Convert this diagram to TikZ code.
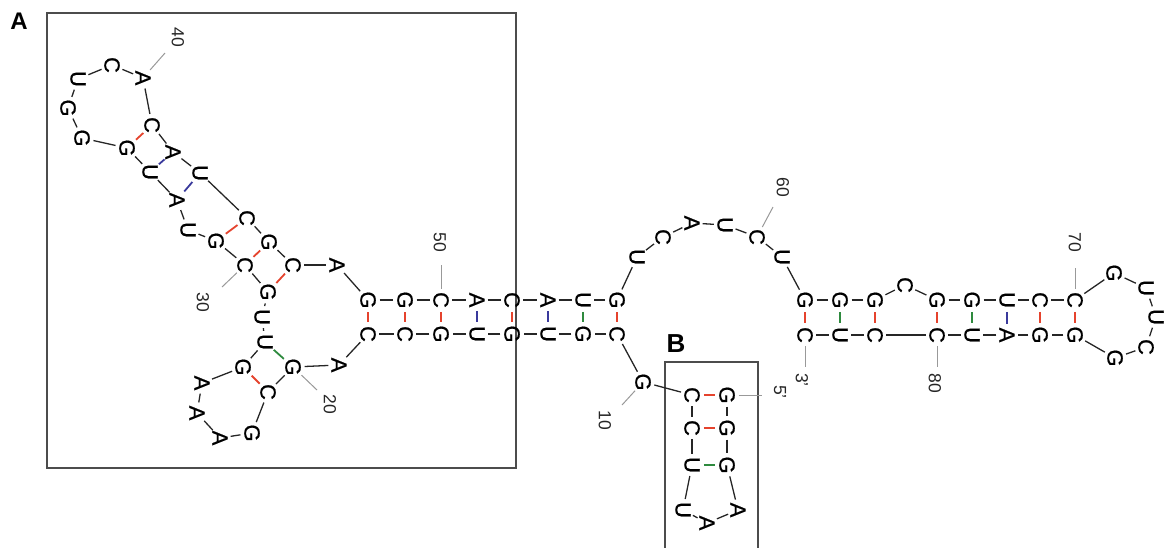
\documentclass[tikz,border=0pt]{standalone}
\usepackage{fontspec}
\setmainfont{Liberation Sans}
\newfontfamily\ntfamily{Liberation Sans}[FakeBold=0.7]
\definecolor{pairred}{HTML}{E5432D}
\definecolor{pairblue}{HTML}{3A3A9C}
\definecolor{pairgreen}{HTML}{2E8A3E}
\newcommand\ntfont{\ntfamily\fontsize{22}{22}\selectfont}
\newcommand\numfont{\fontsize{17.5}{18}\selectfont}
\tikzset{
  nt/.style={circle, minimum size=21pt, inner sep=0pt, font=\ntfont, rotate=-90},
  num/.style={inner sep=0pt, font=\numfont, text=black!85, rotate=-90},
  bb/.style={draw=black!85, line width=1.3pt},
  pr/.style={line width=1.8pt},
  tk/.style={draw=black!40, line width=1pt},
  framebox/.style={draw=black!70, line width=1.3pt},
  panel/.style={inner sep=0pt, font=\fontsize{24}{24}\selectfont\bfseries}
}
\begin{document}
\begin{tikzpicture}[x=1pt,y=-1pt]
\useasboundingbox (0,0) rectangle (1166,547);

% panel frames
\draw[framebox] (47,13) rectangle (516,468);
\draw[framebox] (665,560) -- (665,362) -- (758,362) -- (758,560);
\node[panel] (panelA) at (19,21) {A};
\node[panel, font=\fontsize{26}{26}\selectfont\bfseries] (panelB) at (676,344) {B};

% nucleotides
\foreach \i/\x/\y/\b in {
  1/727/395/G, 2/727/428/G, 3/727/465/G, 4/738/510/A, 5/707/523/A,
  6/683/510/U, 7/692/465/U, 8/692/428/C, 9/692/395/C, 10/643/382/G,
  11/617/334/C, 12/583/334/G, 13/548/334/U, 14/512/334/G, 15/477/334/U,
  16/441/334/G, 17/405/334/C, 18/368/334/C, 19/339/365/A, 20/293/367/G,
  21/268/392/C, 22/252/433/G, 23/220/438/A, 24/197/413/A, 25/202/383/A,
  26/243/367/G, 27/265/342/U, 28/262/317/U, 29/268/292/G, 30/245/265/C,
  31/216/241/G, 32/188/230/U, 33/177/200/A, 34/150/172/U, 35/127/148/G,
  36/82/138/G, 37/68/108/G, 38/78/79/U, 39/112/65/C, 40/143/78/A,
  41/152/125/C, 42/173/152/A, 43/200/173/U, 44/247/218/C, 45/269/242/G,
  46/293/265/C, 47/337/265/A, 48/368/300/G, 49/405/300/G, 50/441/300/C,
  51/477/300/A, 52/512/300/C, 53/548/300/A, 54/583/300/U, 55/617/300/G,
  56/637/257/U, 57/663/237/C, 58/692/223/A, 59/725/225/U, 60/757/237/C,
  61/782/257/U, 62/805/300/G, 63/840/300/G, 64/875/300/G, 65/905/285/C,
  66/937/300/G, 67/972/300/G, 68/1007/300/U, 69/1040/300/C, 70/1075/300/C,
  71/1114/273/G, 72/1146/288/U, 73/1156/317/U, 74/1146/347/C, 75/1115/358/G,
  76/1075/335/G, 77/1040/335/G, 78/1007/335/A, 79/972/335/U, 80/937/335/C,
  81/875/335/C, 82/840/335/U, 83/805/335/C}
  \node[nt] (n\i) at (\x,\y) {\b};

% backbone
\foreach \i [evaluate=\i as \j using int(\i+1)] in {1,...,82}
  \draw[bb] (n\i) -- (n\j);

% base pairs
\foreach \a/\b/\c in {
  9/1/pairred, 8/2/pairred, 7/3/pairgreen,
  48/18/pairred, 49/17/pairred, 50/16/pairred, 51/15/pairblue,
  52/14/pairred, 53/13/pairblue, 54/12/pairgreen, 55/11/pairred,
  35/41/pairred, 34/42/pairblue, 33/43/pairblue, 31/44/pairred,
  30/45/pairred, 29/46/pairred, 27/20/pairgreen, 26/21/pairred,
  62/83/pairred, 63/82/pairgreen, 64/81/pairred, 66/80/pairred,
  67/79/pairgreen, 68/78/pairblue, 69/77/pairred, 70/76/pairred}
  \draw[pr, draw=\c, shorten <=0.5pt, shorten >=0.5pt] (n\a) -- (n\b);

% position ticks and numbers
\coordinate (t10) at (622,405);
\coordinate (t20) at (317,390);
\coordinate (t30) at (222,287);
\coordinate (t40) at (165,53);
\coordinate (t50) at (441,265);
\coordinate (t60) at (773,207);
\coordinate (t70) at (1075,268);
\coordinate (t80) at (937,367);
\coordinate (t5) at (762,395);
\coordinate (t3) at (805,367);
\foreach \k in {10,20,30,40,50,60,70,80}
  \draw[tk] (n\k) -- (t\k);
\draw[tk] (n1) -- (t5);
\draw[tk] (n83) -- (t3);

\node[num] (l10) at (605,420) {10};
\node[num] (l20) at (330,404) {20};
\node[num] (l30) at (203,302) {30};
\node[num] (l40) at (178,37) {40};
\node[num] (l50) at (440,242) {50};
\node[num] (l60) at (783,187) {60};
\node[num] (l70) at (1075,242) {70};
\node[num] (l80) at (935,383) {80};
\node[num] (l5) at (780,392) {5'};
\node[num] (l3) at (802,380) {3'};
\end{tikzpicture}
\end{document}
